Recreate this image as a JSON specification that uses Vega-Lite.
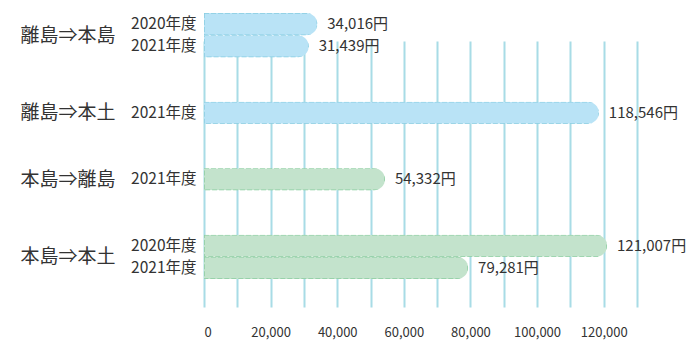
{
  "$schema": "https://vega.github.io/schema/vega-lite/v6.json",
  "width": 433,
  "height": 320,
  "autosize": {"type": "none"},
  "padding": {"left": 204, "top": 0, "right": 50, "bottom": 22},
  "background": "#ffffff",
  "config": {
    "view": {"stroke": null},
    "font": "Noto Sans CJK JP"
  },
  "layer": [
    {
      "data": {
        "values": [
          {"row": "離島⇒本島|2020年度", "route": "離島⇒本島", "year": "2020年度", "value": 34016, "label": "34,016円"},
          {"row": "離島⇒本島|2021年度", "route": "離島⇒本島", "year": "2021年度", "value": 31439, "label": "31,439円"},
          {"row": "離島⇒本土|2021年度", "route": "離島⇒本土", "year": "2021年度", "value": 118546, "label": "118,546円"},
          {"row": "本島⇒離島|2021年度", "route": "本島⇒離島", "year": "2021年度", "value": 54332, "label": "54,332円"},
          {"row": "本島⇒本土|2020年度", "route": "本島⇒本土", "year": "2020年度", "value": 121007, "label": "121,007円"},
          {"row": "本島⇒本土|2021年度", "route": "本島⇒本土", "year": "2021年度", "value": 79281, "label": "79,281円"}
        ]
      },
      "layer": [
        {
          "mark": {"type": "bar", "cornerRadiusEnd": 11, "strokeWidth": 1.5, "strokeDash": [5, 2]},
          "encoding": {
            "y": {
              "field": "row",
              "type": "nominal",
              "sort": null,
              "scale": {
                "type": "band",
                "domain": ["離島⇒本島|2020年度", "離島⇒本島|2021年度", "_1", "_2", "離島⇒本土|2021年度", "_3", "_4", "本島⇒離島|2021年度", "_5", "_6", "本島⇒本土|2020年度", "本島⇒本土|2021年度"],
                "range": [13, 279],
                "paddingInner": 0,
                "paddingOuter": 0
              },
              "axis": {
                "orient": "left",
                "title": null,
                "domain": false,
                "ticks": false,
                "grid": false,
                "labelPadding": 8,
                "labelFontSize": 15.5,
                "labelColor": "#333333",
                "labelExpr": "indexof(datum.value, '|') >= 0 ? split(datum.value, '|')[1] : ''"
              }
            },
            "x": {
              "field": "value",
              "type": "quantitative",
              "scale": {"domain": [0, 130000], "nice": false},
              "axis": {
                "title": null,
                "values": [0, 10000, 20000, 30000, 40000, 50000, 60000, 70000, 80000, 90000, 100000, 110000, 120000, 130000],
                "format": ",d",
                "labelExpr": "datum.value % 20000 == 0 ? datum.label : ''",
                "grid": true,
                "gridColor": "#a8dce6",
                "gridWidth": 2,
                "domain": false,
                "ticks": false,
                "labelPadding": 6,
                "labelFontSize": 13,
                "labelColor": "#333333"
              }
            },
            "color": {
              "field": "route",
              "type": "nominal",
              "scale": {
                "domain": ["離島⇒本島", "離島⇒本土", "本島⇒離島", "本島⇒本土"],
                "range": ["#b9e3f6", "#b9e3f6", "#c3e3cc", "#c3e3cc"]
              },
              "legend": null
            },
            "stroke": {
              "field": "route",
              "type": "nominal",
              "scale": {
                "domain": ["離島⇒本島", "離島⇒本土", "本島⇒離島", "本島⇒本土"],
                "range": ["#88cde1", "#88cde1", "#8acd9f", "#8acd9f"]
              },
              "legend": null
            }
          }
        },
        {
          "mark": {"type": "text", "align": "left", "baseline": "middle", "dx": 10, "fontSize": 15, "color": "#333333"},
          "encoding": {
            "y": {
              "field": "row",
              "type": "nominal",
              "sort": null,
              "axis": {
                "orient": "left",
                "title": null,
                "domain": false,
                "ticks": false,
                "grid": false,
                "labelPadding": 8,
                "labelFontSize": 15.5,
                "labelColor": "#333333",
                "labelExpr": "indexof(datum.value, '|') >= 0 ? split(datum.value, '|')[1] : ''"
              }
            },
            "x": {
              "field": "value",
              "type": "quantitative",
              "axis": {
                "title": null,
                "values": [0, 10000, 20000, 30000, 40000, 50000, 60000, 70000, 80000, 90000, 100000, 110000, 120000, 130000],
                "format": ",d",
                "labelExpr": "datum.value % 20000 == 0 ? datum.label : ''",
                "grid": true,
                "gridColor": "#a8dce6",
                "gridWidth": 2,
                "domain": false,
                "ticks": false,
                "labelPadding": 6,
                "labelFontSize": 13,
                "labelColor": "#333333"
              }
            },
            "text": {"field": "label"}
          }
        }
      ]
    },
    {
      "data": {
        "values": [
          {"route": "離島⇒本島"},
          {"route": "離島⇒本土"},
          {"route": "本島⇒離島"},
          {"route": "本島⇒本土"}
        ]
      },
      "mark": {"type": "text", "text": "", "opacity": 0},
      "encoding": {
        "y": {
          "field": "route",
          "type": "nominal",
          "sort": null,
          "scale": {
            "type": "point",
            "domain": ["_a", "_b", "離島⇒本島", "_c", "_d", "_e", "_f", "_g", "_h", "離島⇒本土", "_i", "_j", "_k", "_l", "_m", "本島⇒離島", "_n", "_o", "_p", "_q", "_r", "_s", "本島⇒本土", "_t", "_u"],
            "range": [13, 279],
            "padding": 0
          },
          "axis": {
            "orient": "left",
            "title": null,
            "domain": false,
            "ticks": false,
            "grid": false,
            "offset": 89,
            "labelPadding": 0,
            "labelFontSize": 19,
            "labelColor": "#333333",
            "labelExpr": "indexof(datum.value, '_') == 0 ? '' : datum.value"
          }
        }
      }
    }
  ],
  "resolve": {"scale": {"y": "independent", "color": "independent", "stroke": "independent"}, "axis": {"y": "independent"}}
}
